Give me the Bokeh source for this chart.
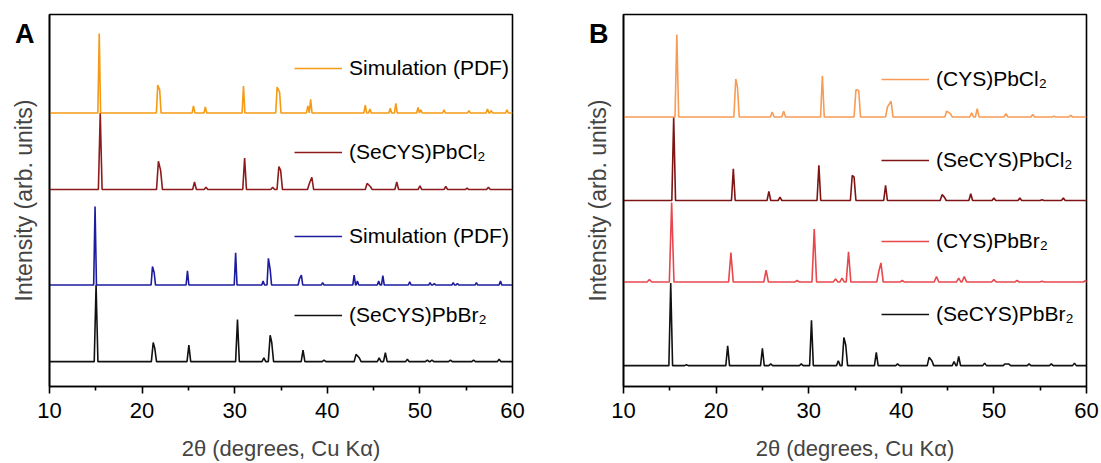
from bokeh.plotting import figure
from bokeh.models import (Range1d, FixedTicker, Legend, LegendItem)
from bokeh.layouts import row
from bokeh.embed import file_html
from bokeh.resources import INLINE

# ---------------- data (peak positions in 2theta, relative intensities %) -------------
A_sim_cl_pos = [15.37, 21.69, 21.9, 25.55, 26.83, 30.95, 34.58, 34.85, 37.9, 38.2, 44.1, 44.6,
                46.8, 47.4, 49.8, 50.1, 52.6, 55.3, 57.3, 57.7, 59.4]
A_sim_cl_int = [100, 35, 29, 9, 7.5, 34, 32.5, 26, 9, 17, 10, 5, 6, 12, 7, 4, 4, 3, 5, 3, 4]

A_se_cl_pos = [15.48, 21.76, 22.0, 25.66, 26.9, 31.07, 34.1, 34.77, 34.96, 38.06, 38.33, 44.3,
               44.65, 47.5, 50.0, 52.8, 55.1, 57.4]
A_se_cl_int = [100, 37, 25, 10, 3, 41, 3, 30, 25, 8, 16, 8, 4, 10, 5, 4, 2, 3]

A_sim_br_pos = [14.92, 21.12, 21.3, 24.9, 30.1, 33.07, 33.64, 33.83, 37.0, 37.2, 39.5, 42.9, 43.25,
                45.55, 46.0, 48.9, 51.1, 51.55, 53.6, 54.05, 56.1, 58.7]
A_sim_br_int = [100, 23.5, 16, 18, 41, 5, 34, 20, 8, 12.6, 3, 12.6, 5, 5, 12, 4, 3, 2, 3, 2, 3, 5]

A_se_br_pos = [15.03, 21.2, 21.36, 25.05, 30.3, 33.15, 33.83, 34.0, 37.38, 39.65, 43.1, 43.45,
               45.6, 46.27, 48.65, 50.8, 51.3, 53.3, 55.8, 58.56]
A_se_br_int = [100, 25, 18, 21.5, 55, 5, 34.5, 25, 15, 2, 9.5, 5, 5, 11.6, 3, 2, 2, 2, 2, 3]

B_cys_cl_pos = [15.76, 22.12, 22.3, 26.06, 27.3, 31.48, 35.1, 35.4, 38.5, 38.9, 44.9, 45.3, 47.6,
                48.2, 51.3, 54.2, 56.5, 58.3]
B_cys_cl_int = [100, 46, 37, 6, 7, 50, 33, 32, 12, 19, 7, 4, 5, 10, 4, 3, 1, 2]

B_se_cl_pos = [15.42, 21.86, 25.7, 26.9, 31.1, 34.7, 34.9, 38.3, 44.4, 44.65, 47.5, 50.0, 52.8,
               55.2, 57.5]
B_se_cl_int = [100, 38, 11, 4, 42, 30, 28, 18, 7, 4, 8, 3, 3, 1, 3]

B_cys_br_pos = [12.8, 15.2, 21.6, 25.4, 28.75, 30.6, 32.9, 33.6, 34.3, 37.6, 37.8, 40.1, 43.8,
                46.2, 46.8, 50.0, 52.5, 55.2, 59.9]
B_cys_br_int = [3, 100, 37, 15, 2, 66.5, 4, 5, 38, 15, 24, 2, 7, 5, 7, 3, 2, 1, 2]

B_se_br_pos = [15.1, 16.8, 21.25, 25.0, 25.9, 29.2, 30.3, 33.2, 33.8, 34.0, 37.3, 39.6, 43.0, 43.3,
               45.7, 46.2, 49.0, 51.2, 51.6, 53.8, 56.2, 58.7]
B_se_br_int = [100, 1, 24, 21, 2, 2, 55, 6, 34, 25, 16, 2, 10, 6, 5, 11, 3, 2, 2, 2, 2, 3]

x_ticks = [10, 20, 30, 40, 50, 60]
x_minor = [15, 25, 35, 45, 55]

FONT = "Liberation Sans"


def pattern(pos, ints, w, offset, scale):
    """connect read peak points with baseline points around each peak"""
    xs, ys = [10.0], [offset]
    n = len(pos)
    for i in range(n):
        if i == 0 or pos[i] - pos[i - 1] >= 2 * w:
            xs.append(pos[i] - w); ys.append(offset)
        xs.append(pos[i]); ys.append(offset + ints[i] / 100.0 * scale)
        if i == n - 1 or pos[i + 1] - pos[i] >= 2 * w:
            xs.append(pos[i] + w); ys.append(offset)
    xs.append(60.0); ys.append(offset)
    return xs, ys


def make_panel(letter, series, width, left, right):
    p = figure(width=width, height=463, output_backend="svg", toolbar_location=None,
               x_range=Range1d(10, 60), y_range=Range1d(0, 374),
               min_border_left=left, min_border_right=right,
               min_border_top=14, min_border_bottom=75)
    p.xgrid.visible = False
    p.ygrid.visible = False
    p.outline_line_color = "black"
    p.outline_line_width = 1.6
    p.background_fill_color = "white"
    p.border_fill_color = "white"

    xa = p.xaxis[0]
    xa.ticker = FixedTicker(ticks=x_ticks, minor_ticks=x_minor)
    xa.major_tick_in = 0
    xa.major_tick_out = 7
    xa.minor_tick_in = 0
    xa.minor_tick_out = 4
    xa.major_tick_line_width = 1.6
    xa.minor_tick_line_width = 1.6
    xa.axis_line_width = 1.6
    xa.major_label_text_font = FONT
    xa.major_label_text_font_size = "22px"
    xa.major_label_text_color = "black"
    xa.major_label_standoff = 9
    xa.axis_label = "2θ (degrees, Cu Kα)"
    xa.axis_label_text_font = FONT
    xa.axis_label_text_font_size = "22px"
    xa.axis_label_text_font_style = "normal"
    xa.axis_label_standoff = 15

    # left axis: no ticks; the panel letter is shown as the single tick label near the top
    ya = p.yaxis[0]
    ya.ticker = FixedTicker(ticks=[354])
    ya.major_label_overrides = {354: letter}
    ya.major_tick_out = 0
    ya.major_tick_in = 0
    ya.minor_tick_out = 0
    ya.minor_tick_in = 0
    ya.major_label_text_font = FONT
    ya.major_label_text_font_size = "27px"
    ya.major_label_text_font_style = "bold"
    ya.major_label_text_color = "black"
    ya.major_label_standoff = 15
    ya.axis_line_width = 1.6
    ya.axis_label = "Intensity (arb. units)"
    ya.axis_label_text_font = FONT
    ya.axis_label_text_font_size = "23px"
    ya.axis_label_text_font_style = "normal"
    ya.axis_label_standoff = -25

    for (pos, ints, w, offset, scale, color, label, leg_x, leg_y) in series:
        xs, ys = pattern(pos, ints, w, offset, scale)
        r = p.line(xs, ys, line_color=color, line_width=1.6)
        lg = Legend(items=[LegendItem(label=label, renderers=[r])],
                    location=(leg_x, leg_y), orientation="vertical",
                    glyph_width=48, glyph_height=20, label_height=20,
                    label_standoff=7, padding=0, margin=0, spacing=0,
                    border_line_alpha=0, background_fill_alpha=0,
                    label_text_font=FONT, label_text_font_size="21px",
                    label_text_color="black")
        p.add_layout(lg, "center")
    return p


series_A = [
    (A_se_br_pos, A_se_br_int, 0.2, 25, 77, "#111111", "(SeCYS)PbBr₂", 245, 59),
    (A_sim_br_pos, A_sim_br_int, 0.15, 102, 79, "#1C1C9E", "Simulation (PDF)", 245, 138),
    (A_se_cl_pos, A_se_cl_int, 0.2, 198, 77, "#8E1B1B", "(SeCYS)PbCl₂", 245, 222),
    (A_sim_cl_pos, A_sim_cl_int, 0.15, 275, 80, "#F59A14", "Simulation (PDF)", 245, 306),
]
series_B = [
    (B_se_br_pos, B_se_br_int, 0.2, 21, 83, "#111111", "(SeCYS)PbBr₂", 258, 60),
    (B_cys_br_pos, B_cys_br_int, 0.25, 105, 80, "#E8474C", "(CYS)PbBr₂", 258, 133),
    (B_se_cl_pos, B_se_cl_int, 0.2, 187, 84, "#7E1414", "(SeCYS)PbCl₂", 258, 214),
    (B_cys_cl_pos, B_cys_cl_int, 0.2, 271, 83, "#F89B55", "(CYS)PbCl₂", 258, 295),
]

pA = make_panel("A", series_A, 550, 49, 38)
pB = make_panel("B", series_B, 551, 73, 15)

layout = row(pA, pB, spacing=0)
open("out.html", "w").write(file_html(layout, INLINE))
